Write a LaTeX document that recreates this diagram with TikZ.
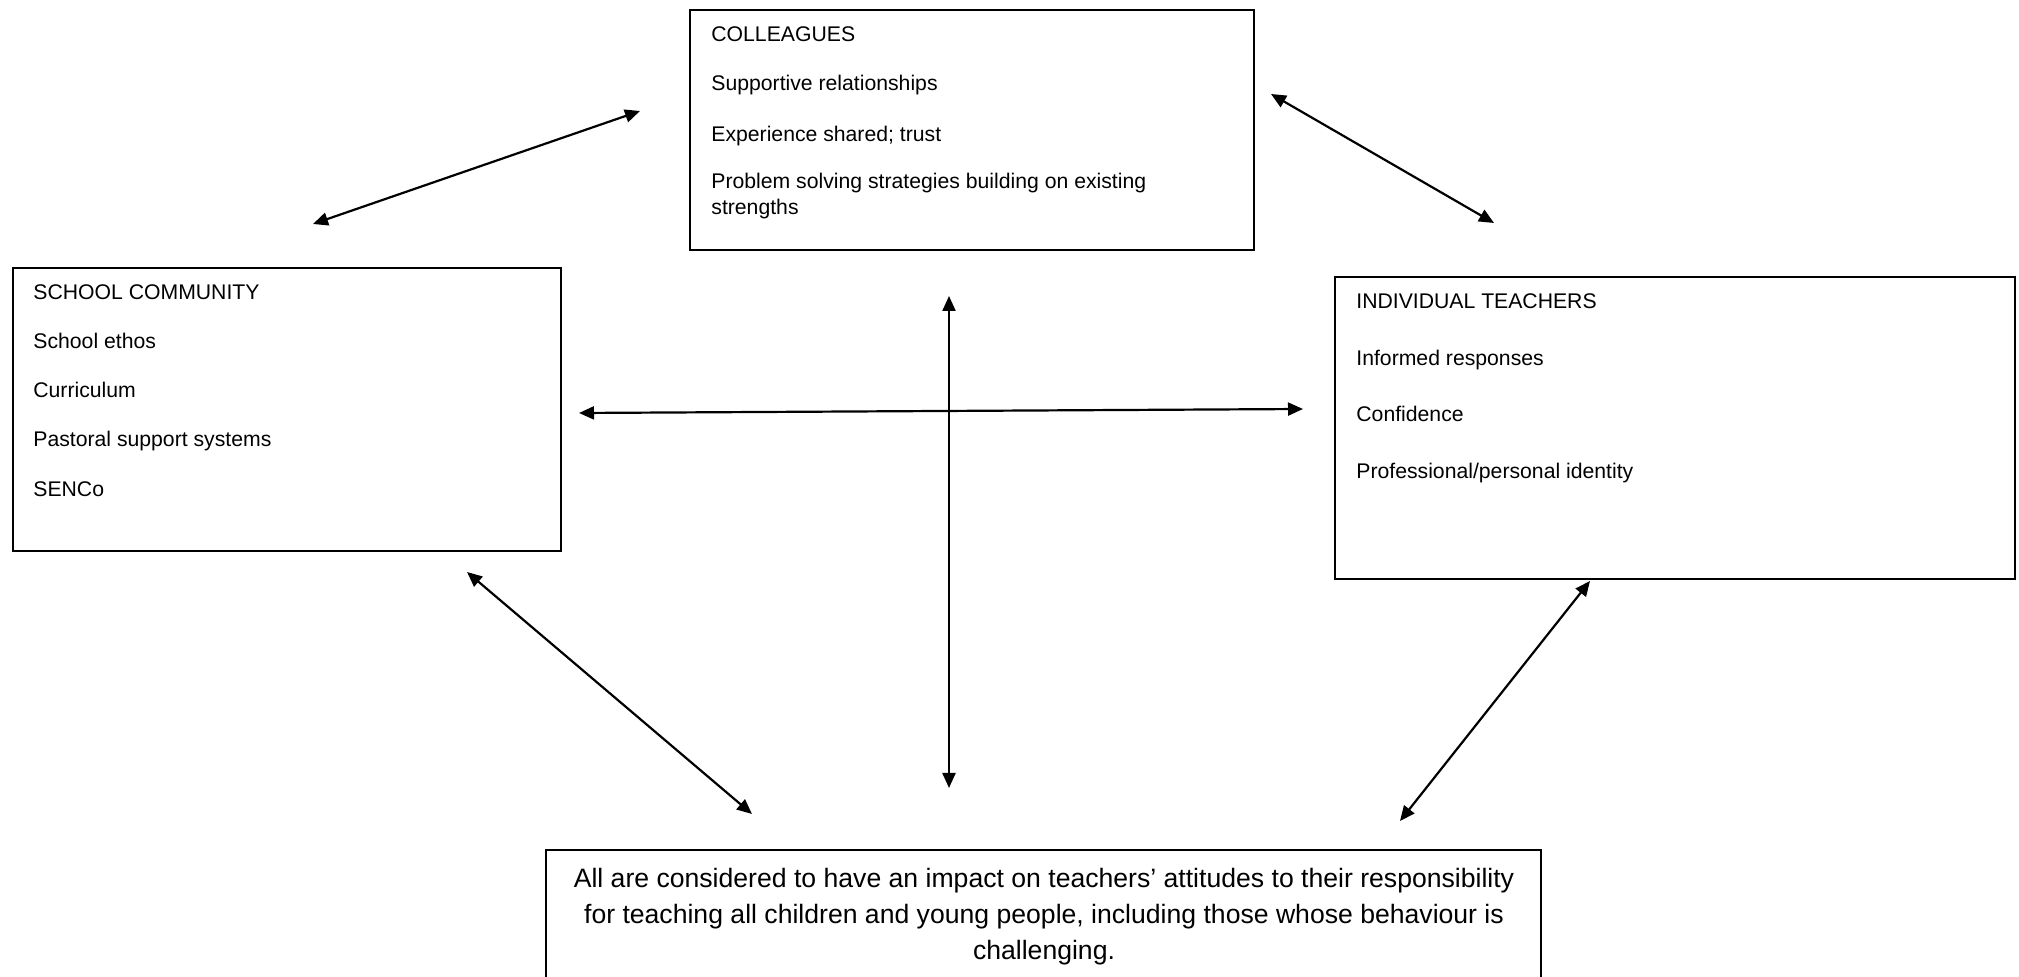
\documentclass[tikz,border=0pt]{standalone}
\usepackage{fontspec}
\setmainfont{Liberation Sans}
\usetikzlibrary{arrows.meta}
\begin{document}
\begin{tikzpicture}[x=0.5pt,y=-0.5pt,
  box/.style={draw,line width=0.8pt,inner sep=0pt,rectangle},
  item/.style={anchor=base west,inner sep=0pt,font=\fontsize{10.6}{12}\selectfont},
  big/.style={anchor=base,inner sep=0pt,font=\fontsize{13.3}{15}\selectfont},
  link/.style={line width=1.1pt,{Triangle[length=7.5pt,width=6.5pt]}-{Triangle[length=7.5pt,width=6.5pt]}}]
\useasboundingbox (0,0) rectangle (2019,977);
\begin{scope}
\clip (0,0) rectangle (2019,977);
% boxes
\node[box,minimum width=282pt,minimum height=120pt] (col) at (972,130) {};
\node[box,minimum width=274pt,minimum height=141.5pt] (sch) at (287,409.5) {};
\node[box,minimum width=340pt,minimum height=151pt] (ind) at (1675,428) {};
\node[box,minimum width=497.5pt,minimum height=75pt] (bot) at (1043.5,925) {};
\end{scope}
% colleagues text
\node[item] (c1) at (711,42) {COLLEAGUES};
\node[item] (c2) at (711,91) {Supportive relationships};
\node[item] (c3) at (711,142) {Experience shared; trust};
\node[item] (c4) at (711,189) {Problem solving strategies building on existing};
\node[item] (c5) at (711,215) {strengths};
% school community text
\node[item] (s1) at (33,300) {SCHOOL COMMUNITY};
\node[item] (s2) at (33,349) {School ethos};
\node[item] (s3) at (33,398) {Curriculum};
\node[item] (s4) at (33,447) {Pastoral support systems};
\node[item] (s5) at (33,497) {SENCo};
% individual teachers text
\node[item] (i1) at (1356,309) {INDIVIDUAL TEACHERS};
\node[item] (i2) at (1356,366) {Informed responses};
\node[item] (i3) at (1356,422) {Confidence};
\node[item] (i4) at (1356,479) {Professional/personal identity};
% bottom text
\node[big] (b1) at (1044,887) {All are considered to have an impact on teachers’ attitudes to their responsibility};
\node[big] (b2) at (1044,923) {for teaching all children and young people, including those whose behaviour is};
\node[big] (b3) at (1044,959) {challenging.};
% arrow end points
\coordinate (a1s) at (313,224); \coordinate (a1e) at (640,111);
\coordinate (a2s) at (1271,94); \coordinate (a2e) at (1494,223);
\coordinate (a3s) at (579,413); \coordinate (a3e) at (1303,409);
\coordinate (a4s) at (949,296); \coordinate (a4e) at (949,788);
\coordinate (a5s) at (467,572); \coordinate (a5e) at (752,814);
\coordinate (a6s) at (1590,581); \coordinate (a6e) at (1400,821);
\draw[link] (a1s) -- (a1e);
\draw[link] (a2s) -- (a2e);
\draw[link] (a3s) -- (a3e);
\draw[link] (a4s) -- (a4e);
\draw[link] (a5s) -- (a5e);
\draw[link] (a6s) -- (a6e);
\end{tikzpicture}
\end{document}
